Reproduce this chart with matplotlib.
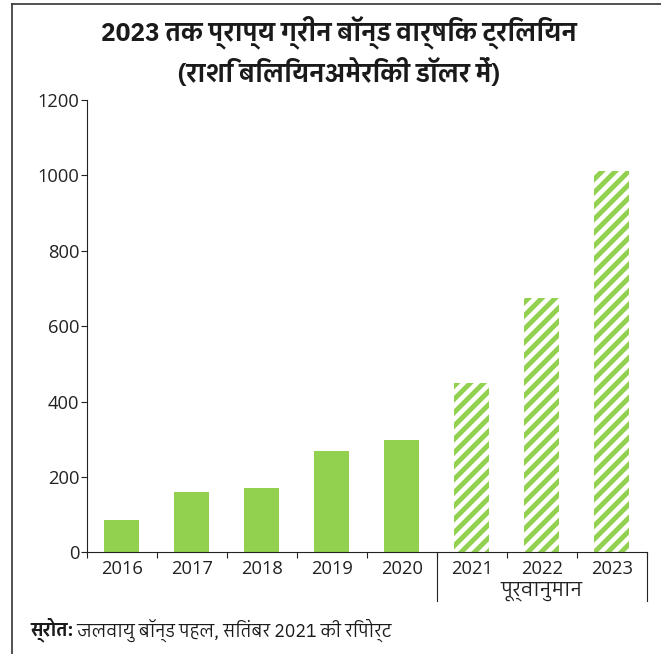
import matplotlib
matplotlib.use("Agg")
import matplotlib.pyplot as plt
from matplotlib import font_manager
from matplotlib.ft2font import FT2Font
from matplotlib.lines import Line2D

# ---------------- data ----------------
years = ["2016", "2017", "2018", "2019", "2020", "2021", "2022", "2023"]
values = [85, 160, 171, 269, 298, 449, 675, 1011]
forecast = [False, False, False, False, False, True, True, True]
yticks = [0, 200, 400, 600, 800, 1000, 1200]
title_text = "2023 तक प्राप्य ग्रीन बॉन्ड वार्षिक ट्रिलियन\n(राशि बिलियनअमेरिकी डॉलर में)"
forecast_label = "पूर्वानुमान"
source_bold = "स्रोत:"
source_rest = " जलवायु बॉन्ड पहल, सितंबर 2021 की रिपोर्ट"

GREEN = "#92D050"

# ---- find the best font that has Devanagari glyphs (if any) ----
cands = {}
for f in font_manager.fontManager.ttflist:
    try:
        cm = FT2Font(f.fname).get_charmap()
    except Exception:
        continue
    if ord("क") in cm and ord("्") in cm:
        cands.setdefault(f.name, []).append(f)

def score(name):
    n = name.lower()
    s = 0
    if "mono" in n:
        s -= 100
    if "serif" in n and "sans" not in n:
        s -= 20
    if "sans" in n:
        s += 20
    if "devanagari" in n or "lohit" in n or "mukta" in n or "hind" in n:
        s += 30
    if "ui" in n:
        s -= 2
    if any(ff.weight in ("bold", 700) or (isinstance(ff.weight, int) and ff.weight >= 600)
           for ff in cands[name]):
        s += 5
    return s

deva = max(cands, key=score) if cands else None

def fam(*names):
    lst = []
    if deva:
        lst.append(deva)
    lst.extend(names)
    return lst

DPI = 80
fig = plt.figure(figsize=(661 / DPI, 654 / DPI), dpi=DPI)
plt.rcParams["hatch.linewidth"] = 4.4

ax = fig.add_axes([87 / 661, 1 - 552.3 / 654, (646.7 - 87) / 661, (552.3 - 100) / 654])

x = list(range(len(years)))
for xi, v, fc in zip(x, values, forecast):
    if fc:
        ax.bar(xi, v, width=0.5, facecolor="white", edgecolor=GREEN,
               hatch="//", linewidth=0)
    else:
        ax.bar(xi, v, width=0.5, color=GREEN, linewidth=0)

ax.set_xlim(-0.5, len(years) - 0.5)
ax.set_ylim(0, 1200)
ax.set_yticks(yticks)
ax.set_xticks(x)
ax.set_xticklabels(years)
ax.set_xticks([i - 0.5 for i in range(len(years) + 1)], minor=True)
ax.tick_params(axis="x", which="major", length=0, pad=7)
ax.tick_params(axis="x", which="minor", length=5, width=1, direction="out", color="#222222")
ax.tick_params(axis="y", length=5, width=1, direction="out", color="#222222", pad=2)
for lab in ax.get_xticklabels() + ax.get_yticklabels():
    lab.set_fontfamily(["Open Sans", "DejaVu Sans"])
    lab.set_fontsize(16.5)
    lab.set_color("#222222")

for s in ["top", "right"]:
    ax.spines[s].set_visible(False)
for s in ["left", "bottom"]:
    ax.spines[s].set_linewidth(1)
    ax.spines[s].set_color("#222222")

# forecast bracket lines
trans = ax.get_xaxis_transform()
first_fc = forecast.index(True)
for xb in [first_fc - 0.5, len(years) - 0.5]:
    ax.add_line(Line2D([xb, xb], [0, -0.108], transform=trans, color="#222222",
                       linewidth=1, clip_on=False))
fl = ax.text((first_fc - 0.5 + len(years) - 0.5) / 2, -0.086, forecast_label,
             transform=trans, ha="center", va="center", fontsize=15,
             family=fam("DejaVu Sans"), color="#222222")

# title
ttl = fig.text(339 / 661, 1 - 51 / 654, title_text, ha="center", va="center",
               fontsize=22, fontweight="bold", linespacing=1.4,
               family=fam("Liberation Sans Narrow", "Liberation Sans", "DejaVu Sans"),
               color="#1a1a1a")

# source
t1 = fig.text(30 / 661, 1 - 630 / 654, source_bold, ha="left", va="center",
              fontsize=14, fontweight="bold",
              family=fam("Liberation Sans", "DejaVu Sans"), color="#1a1a1a")
t2 = fig.text(60 / 661, 1 - 630 / 654, source_rest, ha="left", va="center",
              fontsize=14, family=fam("Liberation Sans", "DejaVu Sans"), color="#1a1a1a")


def fit(texts, target_w, max_size):
    fig.canvas.draw()
    r = fig.canvas.get_renderer()
    w = sum(t.get_window_extent(r).width for t in texts)
    for t in texts:
        t.set_fontsize(min(max_size, t.get_fontsize() * target_w / w))


fit([ttl], 478, 27)
fit([fl], 88, 18)
fit([t1, t2], 363, 17)
fig.canvas.draw()
bb = t1.get_window_extent(fig.canvas.get_renderer())
t2.set_x(bb.x1 / fig.bbox.width)

# frame (left + top)
fig.add_artist(Line2D([12 / 661, 12 / 661], [0, 1 - 4 / 654], transform=fig.transFigure,
                      color="#333333", linewidth=1.5))
fig.add_artist(Line2D([12 / 661, 1], [1 - 4 / 654, 1 - 4 / 654], transform=fig.transFigure,
                      color="#333333", linewidth=1.5))

fig.savefig("out.png", dpi=DPI)
